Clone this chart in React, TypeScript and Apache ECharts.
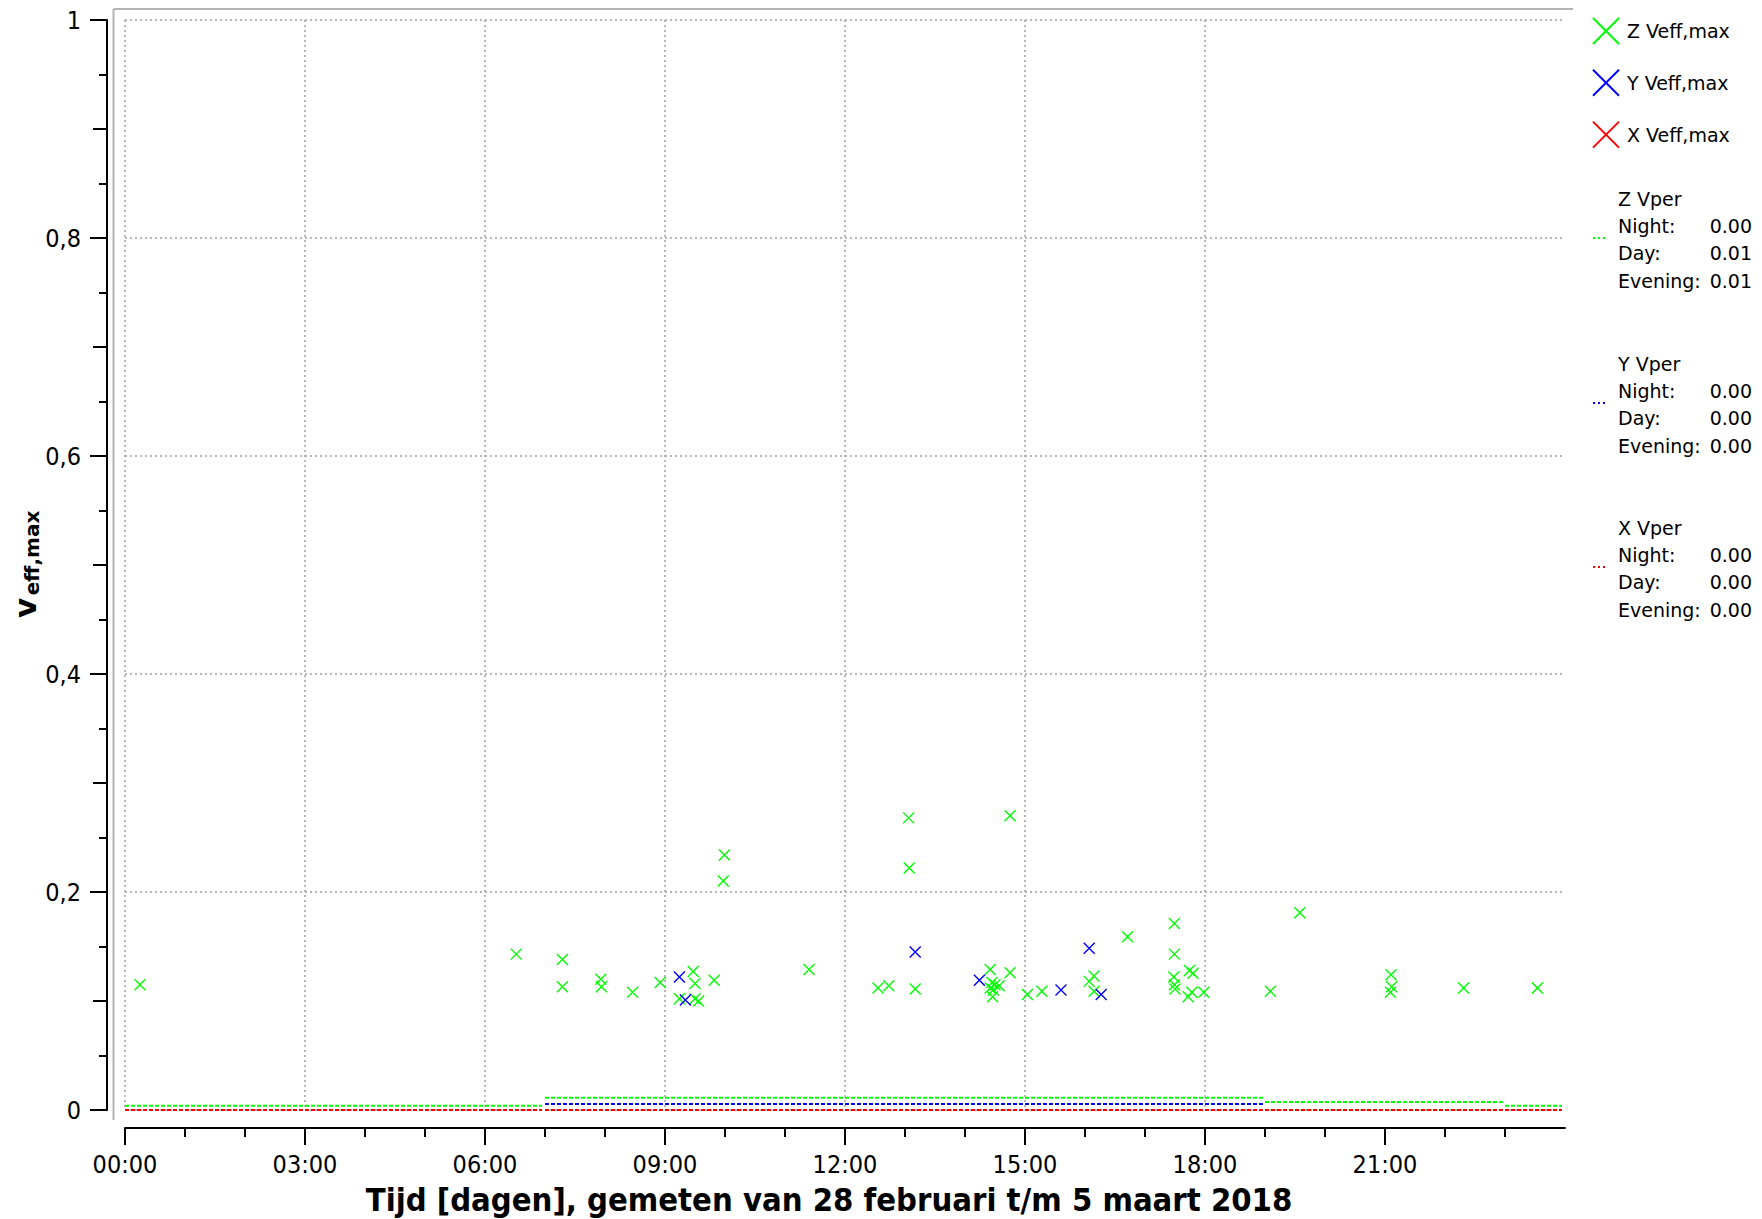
import React, { useEffect, useRef } from "react";
import * as echarts from "echarts";

// ---- Data (hours of day, values) ----
const zTimes = [
  0.25, 6.52, 7.29, 7.29, 7.93, 7.94, 8.46, 8.92, 9.24, 9.47, 9.5, 9.5, 9.56, 9.82, 9.99, 9.97,
  11.4, 12.55, 12.73, 13.06, 13.07, 13.17, 14.42, 14.45, 14.5, 14.57, 14.42, 14.47, 14.46, 14.75,
  14.75, 15.04, 15.28, 16.07, 16.15, 16.15, 16.71, 17.49, 17.49, 17.48, 17.49, 17.5, 17.74, 17.8,
  17.78, 17.72, 17.98, 19.09, 19.58, 21.1, 21.11, 21.09, 22.31, 23.54,
];
const zValues = [
  0.115, 0.143, 0.138, 0.113, 0.12, 0.113, 0.108, 0.117, 0.102, 0.127, 0.116, 0.102, 0.1, 0.119,
  0.234, 0.21, 0.129, 0.112, 0.114, 0.268, 0.222, 0.111, 0.129, 0.117, 0.115, 0.114, 0.112, 0.11,
  0.104, 0.27, 0.126, 0.106, 0.109, 0.118, 0.123, 0.109, 0.159, 0.171, 0.143, 0.122, 0.115, 0.111,
  0.128, 0.1255, 0.108, 0.104, 0.108, 0.109, 0.181, 0.124, 0.113, 0.108, 0.112, 0.112,
];
const yTimes = [9.24, 9.34, 13.17, 14.24, 15.6, 16.07, 16.27];
const yValues = [0.122, 0.101, 0.145, 0.119, 0.11, 0.1485, 0.106];
const xTimes: number[] = [];
const xValues: number[] = [];

// Vper step levels per period (night, day, evening, night)
const periodStart = [0, 7, 19, 23];
const periodEnd = [6.95, 18.97, 22.97, 23.95];
const zVper = [0.004, 0.0113, 0.0073, 0.004];
const yVper = [0, 0.0055, 0, 0];
const xVper = [0, 0, 0, 0];

// Ticks
const xMajorTicks = [0, 3, 6, 9, 12, 15, 18, 21];
const xMinorTicks = [0, 1, 2, 3, 4, 5, 6, 7, 8, 9, 10, 11, 12, 13, 14, 15, 16, 17, 18, 19, 20, 21, 22, 23];
const yMajorTicks = [0, 0.2, 0.4, 0.6, 0.8, 1];
const yMidTicks = [0.1, 0.3, 0.5, 0.7, 0.9];
const yMinorTicks = [0.05, 0.15, 0.25, 0.35, 0.45, 0.55, 0.65, 0.75, 0.85, 0.95];

// Legend texts
const seriesNames = ["Z Veff,max", "Y Veff,max", "X Veff,max"];
const vperNames = ["Z Vper", "Y Vper", "X Vper"];
const vperRowLabels = ["Night:", "Day:", "Evening:"];
const zVperText = ["0.00", "0.01", "0.01"];
const yVperText = ["0.00", "0.00", "0.00"];
const xVperText = ["0.00", "0.00", "0.00"];
const colors = ["#00ff00", "#0000ff", "#ff0000"];

const xTitle = "Tijd [dagen], gemeten van 28 februari t/m 5 maart 2018";
const yTitleMain = "v";
const yTitleSub = "eff,max";

const TICK_FONT = "'DejaVu Sans Condensed', 'DejaVu Sans', sans-serif";
const LEGEND_FONT = "'DejaVu Sans', sans-serif";

function pairs(t: number[], v: number[]) {
  return t.map((x, i) => [x, v[i]]);
}

function stepData(levels: number[]) {
  const out: any[] = [];
  levels.forEach((v, i) => {
    out.push([periodStart[i], v]);
    out.push([periodEnd[i], v]);
    out.push([periodEnd[i], "-"]);
  });
  return out;
}

const crossPath = "path://M0,0L10,10M0,10L10,0";

function txt(x: number, y: number, text: string, opts: any = {}) {
  const align = opts.align || "left";
  return {
    type: "text",
    x,
    y,
    rotation: opts.rotation || 0,
    z: 100,
    style: {
      text,
      fill: "#000",
      fontSize: opts.fontSize || 19,
      fontFamily: opts.fontFamily || LEGEND_FONT,
      fontWeight: opts.fontWeight || "normal",
      align,
      verticalAlign: "middle",
      textAlign: align,
      textVerticalAlign: "middle",
    },
  };
}

function line(x1: number, y1: number, x2: number, y2: number, stroke: string, lineWidth: number, lineDash?: number[]) {
  return {
    type: "line",
    z: 100,
    shape: { x1, y1, x2, y2 },
    style: { stroke, lineWidth, lineDash: lineDash || null },
  };
}

export default function App() {
  const ref = useRef<HTMLDivElement>(null);

  useEffect(() => {
    if (!ref.current) return;
    const chart = echarts.init(ref.current, undefined, { renderer: "svg" });

    const tickLine = { color: "#000", width: 2 };
    const gridLine = { color: "#a0a0a0", width: 1.5, type: [2, 3] as any };

    const graphics: any[] = [];
    // plot frame (top & left light gray)
    graphics.push(line(113.5, 9, 113.5, 1120, "#b4b4b4", 2));
    graphics.push(line(113.5, 9, 1573, 9, "#b4b4b4", 2));

    // y title
    graphics.push(txt(25, 608, yTitleMain, { rotation: Math.PI / 2, fontSize: 31, fontWeight: "bold", align: "center" }));
    graphics.push(txt(32, 553, yTitleSub, { rotation: Math.PI / 2, fontSize: 20, fontWeight: "bold", align: "center" }));

    // x title
    graphics.push(txt(829, 1200, xTitle, { fontSize: 32.5, fontWeight: "bold", align: "center", fontFamily: TICK_FONT }));

    // legend: Veff,max markers
    const legTop = 31;
    const legStep = 51.8;
    seriesNames.forEach((name, i) => {
      const cy = legTop + i * legStep;
      const cx = 1606;
      graphics.push(line(cx - 13, cy - 13, cx + 13, cy + 13, colors[i], 2));
      graphics.push(line(cx - 13, cy + 13, cx + 13, cy - 13, colors[i], 2));
      graphics.push(txt(1627, cy, name, { fontSize: 19 }));
    });

    // legend: Vper blocks
    const vperTexts = [zVperText, yVperText, xVperText];
    const blockTop = [199, 364, 528];
    const rowStep = 27.2;
    vperNames.forEach((name, i) => {
      const t = blockTop[i];
      graphics.push(line(1593, t + 39, 1608, t + 39, colors[i], 2, [2, 3]));
      graphics.push(txt(1618, t, name, { fontSize: 19 }));
      vperRowLabels.forEach((lab, r) => {
        const y = t + (r + 1) * rowStep;
        graphics.push(txt(1618, y, lab, { fontSize: 19 }));
        graphics.push(txt(1752, y, vperTexts[i][r], { fontSize: 19, align: "right" }));
      });
    });

    const option: any = {
      animation: false,
      backgroundColor: "#ffffff",
      grid: { left: 125, right: 197, top: 20, bottom: 109, containLabel: false, outerBoundsMode: "none" },
      xAxis: [
        {
          type: "value",
          min: 0,
          max: 24,
          interval: 3,
          position: "bottom",
          offset: 18,
          axisLine: { show: true, onZero: false, lineStyle: { color: "#000", width: 2 } },
          axisTick: { show: true, customValues: xMajorTicks, length: 17, lineStyle: tickLine },
          axisLabel: {
            show: true,
            customValues: xMajorTicks,
            margin: 24,
            fontSize: 25,
            fontFamily: TICK_FONT,
            color: "#000",
            formatter: (v: number) => (v < 10 ? "0" : "") + Math.round(v) + ":00",
          },
          splitLine: { show: true, showMaxLine: false, lineStyle: gridLine },
        },
        {
          type: "value",
          min: 0,
          max: 24,
          position: "bottom",
          offset: 18,
          axisLine: { show: false, onZero: false },
          axisTick: { show: true, customValues: xMinorTicks, length: 9, lineStyle: tickLine },
          axisLabel: { show: false },
          splitLine: { show: false },
        },
      ],
      yAxis: [
        {
          type: "value",
          min: 0,
          max: 1,
          interval: 0.2,
          position: "left",
          offset: 18,
          axisLine: { show: true, onZero: false, lineStyle: { color: "#000", width: 2 } },
          axisTick: { show: true, customValues: yMajorTicks, length: 17, lineStyle: tickLine },
          axisLabel: {
            show: true,
            customValues: yMajorTicks,
            margin: 26,
            fontSize: 25,
            fontFamily: TICK_FONT,
            color: "#000",
            formatter: (v: number) => String(Math.round(v * 10) / 10).replace(".", ","),
          },
          splitLine: { show: true, lineStyle: gridLine },
        },
        {
          type: "value",
          min: 0,
          max: 1,
          position: "left",
          offset: 18,
          axisLine: { show: false, onZero: false },
          axisTick: { show: true, customValues: yMidTicks, length: 14, lineStyle: tickLine },
          axisLabel: { show: false },
          splitLine: { show: false },
        },
        {
          type: "value",
          min: 0,
          max: 1,
          position: "left",
          offset: 18,
          axisLine: { show: false, onZero: false },
          axisTick: { show: true, customValues: yMinorTicks, length: 8, lineStyle: tickLine },
          axisLabel: { show: false },
          splitLine: { show: false },
        },
      ],
      series: [
        ...[zVper, yVper, xVper].map((lv, i) => ({
          type: "line",
          name: vperNames[i],
          xAxisIndex: 0,
          yAxisIndex: 0,
          data: stepData(lv),
          showSymbol: false,
          symbol: "none",
          connectNulls: false,
          lineStyle: { color: colors[i], width: 2, type: [4, 2] },
          z: 3 + i,
        })),
        ...[
          [zTimes, zValues],
          [yTimes, yValues],
          [xTimes, xValues],
        ].map(([t, v], i) => ({
          type: "scatter",
          name: seriesNames[i],
          xAxisIndex: 0,
          yAxisIndex: 0,
          data: pairs(t as number[], v as number[]),
          symbol: crossPath,
          symbolSize: 11,
          itemStyle: { color: "transparent", borderColor: colors[i], borderWidth: 1.4, opacity: 1 },
          z: 10 + i,
        })),
      ],
      graphic: { elements: graphics },
    };

    chart.setOption(option);
    return () => chart.dispose();
  }, []);

  return (
    <div
      ref={ref}
      style={{ position: "fixed", left: 0, top: 0, width: 1762, height: 1219, background: "#fff" }}
    />
  );
}
